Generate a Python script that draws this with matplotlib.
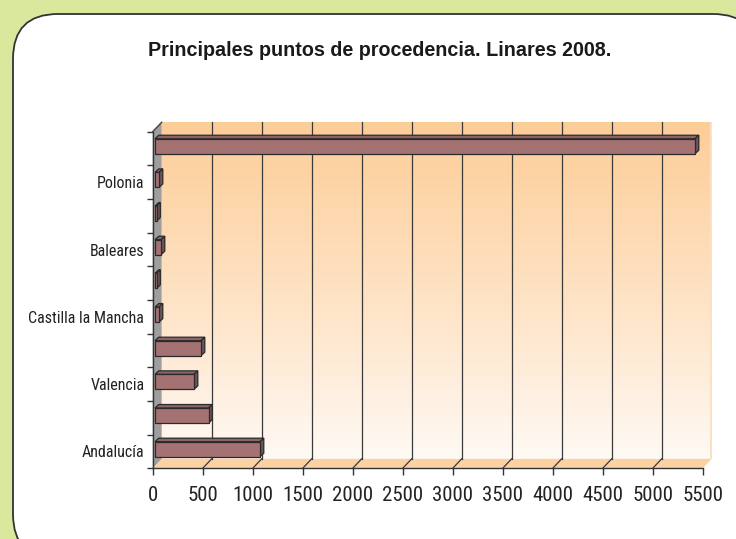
import numpy as np
import matplotlib
matplotlib.use("Agg")
import matplotlib.pyplot as plt
from matplotlib.patches import Polygon, Rectangle, FancyBboxPatch
from matplotlib.transforms import IdentityTransform

plt.rcParams['font.family'] = ['Roboto Condensed', 'Liberation Sans', 'DejaVu Sans']

# data (bottom to top)
categories = ['Andalucía', '', 'Valencia', '', 'Castilla la Mancha', '', 'Baleares', '', 'Polonia', '']
values = [1050, 535, 390, 460, 40, 15, 60, 15, 40, 5400]
xticks = [0, 500, 1000, 1500, 2000, 2500, 3000, 3500, 4000, 4500, 5000, 5500]
title = 'Principales puntos de procedencia. Linares 2008.'

W, H = 736, 539
fig = plt.figure(figsize=(W / 100, H / 100), dpi=100)
fig.patch.set_facecolor('#d9e89c')

# white rounded frame (pixel coords, origin bottom-left)
frame = FancyBboxPatch((13, H - 559), 745, 559 - 14,
                       boxstyle="round,pad=0,rounding_size=45",
                       transform=IdentityTransform(), facecolor='white',
                       edgecolor='#333333', linewidth=1.3, zorder=-1)
fig.patches.append(frame)

# axes placement in pixels
left, bottom, right, top = 152.7, 468.3, 702.7, 131.7
ax = fig.add_axes([left / W, (H - bottom) / H, (right - left) / W, (bottom - top) / H])
ax.set_zorder(2)
ax.set_facecolor('none')
xmax = 5500
ux = xmax / (right - left)             # data units per px (x)
uy = len(values) / (bottom - top)      # data units per px (y)
ddx, ddy = 9 * ux, 9.5 * uy            # depth of the 3d box
y0, y1 = -0.5, len(values) - 0.5

# back wall gradient
grad = np.linspace(0, 1, 256).reshape(-1, 1)
c_top = np.array([253, 205, 152]) / 255
c_bot = np.array([255, 250, 246]) / 255
img = c_bot + (c_top - c_bot) * grad[..., None] ** 0.9
img = img.reshape(256, 1, 3)
ax.imshow(img, extent=[ddx, xmax + ddx, y0 + ddy, y1 + ddy], origin='lower',
          aspect='auto', clip_on=False, zorder=0)
ax.add_patch(Rectangle((xmax + ddx - 2 * ux, y0 + ddy), 2 * ux, y1 - y0,
                       facecolor='#fde0bf', edgecolor='none', clip_on=False, zorder=0.5))

# floor
ax.add_patch(Polygon([(0, y0), (xmax, y0), (xmax + ddx, y0 + ddy), (ddx, y0 + ddy)],
                     facecolor='#fdd2a2', edgecolor='none', clip_on=False, zorder=1))
# left wall
ax.add_patch(Polygon([(0, y0), (ddx, y0 + ddy), (ddx, y1 + ddy), (0, y1)],
                     facecolor='#9e9e9e', edgecolor='none', clip_on=False, zorder=1))
ax.plot([0, ddx], [y1, y1 + ddy], color='#444444', lw=1, clip_on=False, zorder=1.6)

# grid lines on the wall and slanted ticks on the floor
for v in xticks[1:-1]:
    ax.plot([v + ddx, v + ddx], [y0 + ddy, y1 + ddy], color='#3a3a3a', lw=0.9,
            clip_on=False, zorder=1.5)
    ax.plot([v, v + ddx], [y0, y0 + ddy], color='#3a3a3a', lw=0.9,
            clip_on=False, zorder=1.5)

# 3d bars
ox, oy = 2.3 * ux, 2.3 * uy
bx, by = 3.8 * ux, 3.5 * uy
hh = 15 * uy / 2
for i, v in enumerate(values):
    xa, xb = ox, ox + v
    ya, yb = i + oy - hh, i + oy + hh
    kw = dict(edgecolor='#2a2a2a', linewidth=0.9, clip_on=False, zorder=3)
    ax.add_patch(Polygon([(xa, yb), (xb, yb), (xb + bx, yb + by), (xa + bx, yb + by)],
                         facecolor='#8a6466', **kw))
    ax.add_patch(Polygon([(xb, ya), (xb + bx, ya + by), (xb + bx, yb + by), (xb, yb)],
                         facecolor='#6b5557', **kw))
    ax.add_patch(Rectangle((xa, ya), v, yb - ya, facecolor='#a57274', **kw))

ax.set_xlim(0, xmax)
ax.set_ylim(y0, y1)

# axes styling
for s in ['top', 'right']:
    ax.spines[s].set_visible(False)
for s in ['left', 'bottom']:
    ax.spines[s].set_color('#333333')
    ax.spines[s].set_linewidth(1.0)
    ax.spines[s].set_zorder(4)

ax.set_xticks(xticks)
ax.set_xticklabels([str(t) for t in xticks], fontsize=15, color='#222222')
ax.tick_params(axis='x', direction='out', length=5, width=1, color='#333333', pad=8)

ax.set_yticks(range(len(categories)))
ax.set_yticklabels(categories, fontsize=11.5, color='#222222')
ax.tick_params(axis='y', which='major', length=0, pad=6)
ax.set_yticks(np.arange(-0.5, len(values), 1), minor=True)
ax.tick_params(axis='y', which='minor', direction='out', length=4, width=1, color='#333333')

fig.text(379.5 / W, 1 - 50 / H, title, ha='center', va='center',
         fontsize=14.2, fontweight='bold', color='#1a1a1a',
         family=['Liberation Sans', 'DejaVu Sans'])

fig.savefig('out.png', dpi=100)
